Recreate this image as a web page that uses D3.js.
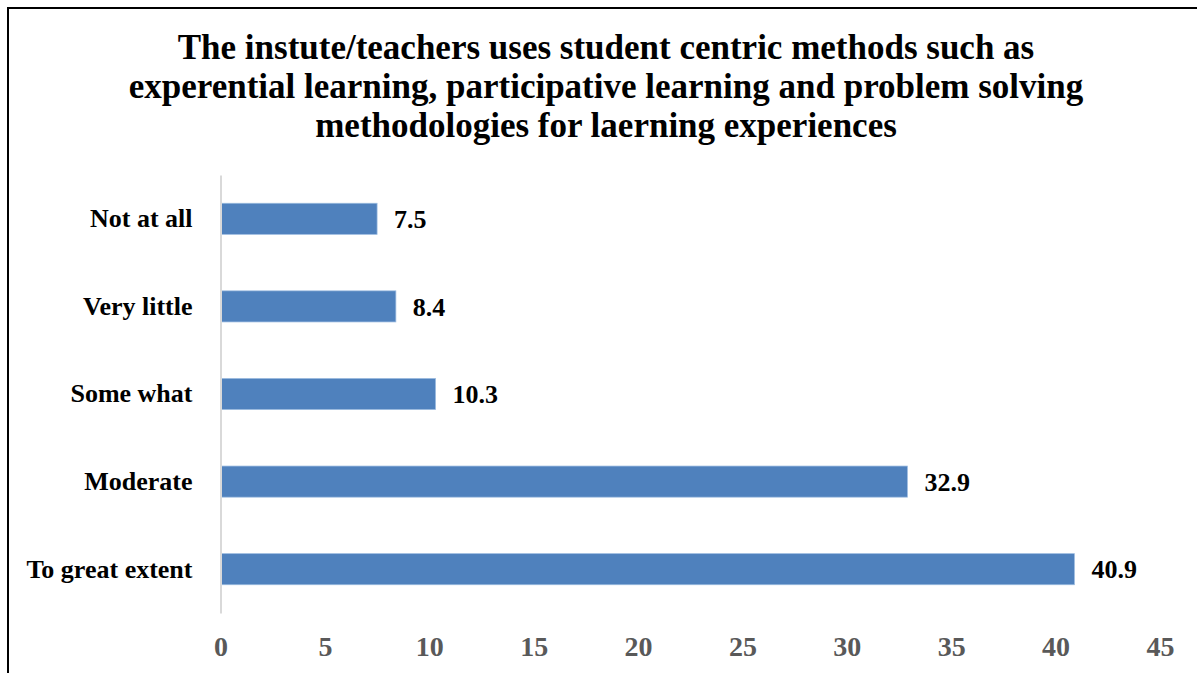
<!DOCTYPE html>
<html>
<head>
<meta charset="utf-8">
<script src="https://cdn.jsdelivr.net/npm/d3@7"></script>
<style>
  body { margin: 0; background: #fff; }
  text { font-family: "Liberation Serif", "DejaVu Serif", serif; font-weight: bold; }
</style>
</head>
<body>
<script>
var categories = ["Not at all", "Very little", "Some what", "Moderate", "To great extent"];
var values = [7.5, 8.4, 10.3, 32.9, 40.9];
var xTicks = [0, 5, 10, 15, 20, 25, 30, 35, 40, 45];
var titleLines = [
	"The instute/teachers uses student centric methods such as",
	"experential learning, participative learning and problem solving",
	"methodologies for laerning experiences"
];

var width = 1197,
	height = 673,
	margin = {top: 175, left: 220.5, right: 37, bottom: 60};

var svg = d3.select("body").append("svg")
	.attr("width", width)
	.attr("height", height);

// chart frame
svg.append("rect")
	.attr("x", 8)
	.attr("y", 8)
	.attr("width", width + 20)
	.attr("height", height + 20)
	.attr("fill", "none")
	.attr("stroke", "#000")
	.attr("stroke-width", 2);

var x = d3.scaleLinear()
	.domain([0, 45])
	.range([margin.left, width - margin.right]);

var y = d3.scaleBand()
	.domain(categories)
	.range([margin.top, height - margin.bottom])
	.paddingInner(0.645)
	.paddingOuter(0.3225);

// title
svg.append("g")
	.selectAll("text")
	.data(titleLines)
	.enter().append("text")
		.attr("x", 606)
		.attr("y", function(d, i) { return 59 + i * 39; })
		.attr("text-anchor", "middle")
		.style("font-size", "35px")
		.attr("fill", "#000")
		.text(function(d) { return d; });

// bars
svg.selectAll(".bar")
	.data(values)
	.enter().append("rect")
		.attr("class", "bar")
		.attr("x", x(0))
		.attr("y", function(d, i) { return y(categories[i]); })
		.attr("width", function(d) { return x(d) - x(0); })
		.attr("height", y.bandwidth())
		.attr("fill", "#4f81bd")
		.attr("stroke", "#9bbbe0")
		.attr("stroke-width", 0.75);

// value labels
svg.selectAll(".val")
	.data(values)
	.enter().append("text")
		.attr("class", "val")
		.attr("x", function(d) { return x(d) + 17; })
		.attr("y", function(d, i) { return y(categories[i]) + y.bandwidth() / 2; })
		.attr("dy", "0.35em")
		.style("font-size", "26px")
		.attr("fill", "#000")
		.text(function(d) { return d.toFixed(1); });

// vertical axis line + category labels
var yAxis = d3.axisLeft(y).tickSize(0).tickPadding(28);
var gY = svg.append("g")
	.attr("transform", "translate(" + x(0) + ",0)")
	.call(yAxis);
gY.select(".domain").attr("stroke", "#d9d9d9").attr("stroke-width", 2);
gY.selectAll("text")
	.style("font-size", "26px")
	.attr("fill", "#000");

// bottom tick labels (no axis line)
var xAxis = d3.axisBottom(x).tickValues(xTicks).tickSize(0).tickPadding(0);
var gX = svg.append("g")
	.attr("transform", "translate(0,636)")
	.call(xAxis);
gX.select(".domain").remove();
gX.selectAll("text")
	.style("font-size", "28px")
	.attr("fill", "#595959");
</script>
</body>
</html>
